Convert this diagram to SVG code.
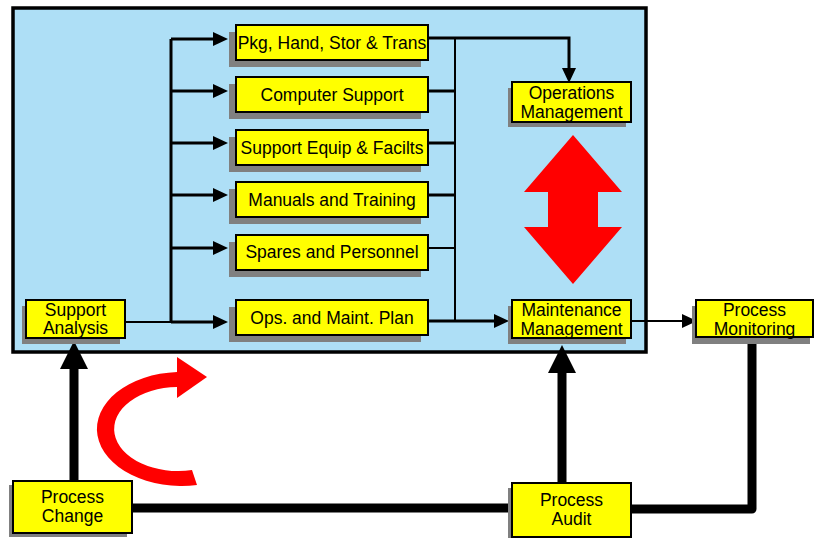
<svg xmlns="http://www.w3.org/2000/svg" width="815" height="538" viewBox="0 0 815 538">
  <style>
    .box { fill: #FFFF00; stroke: #000; stroke-width: 2; }
    .shadow { fill: #808080; }
    .lbl { font-family: "Liberation Sans", Arial, sans-serif; font-size: 17.5px; fill: #000; text-anchor: middle; }
    .bus { fill: none; stroke: #000; stroke-width: 3; }
    .thin { fill: none; stroke: #000; stroke-width: 2; }
    .thick { fill: none; stroke: #000; stroke-width: 9; stroke-linecap: round; stroke-linejoin: round; }
    .red { fill: #FF0000; }
  </style>
  <defs>
    <marker id="head" markerUnits="userSpaceOnUse" viewBox="0 0 15 14" refX="0" refY="7" markerWidth="15" markerHeight="14" orient="auto">
      <path d="M0,0 L15,7 L0,14 Z" fill="#000"/>
    </marker>
    <marker id="bighead" markerUnits="userSpaceOnUse" viewBox="0 0 28 28" refX="0" refY="14" markerWidth="28" markerHeight="28" orient="auto">
      <path d="M0,0 L28,14 L0,28 Z" fill="#000"/>
    </marker>
  </defs>

  <!-- white page -->
  <rect x="0" y="0" width="815" height="538" fill="#fff"/>

  <!-- support system frame -->
  <rect id="frame" x="13" y="8" width="633" height="344" fill="#AEDFF6" stroke="#000" stroke-width="3.5"/>

  <!-- connectors -->
  <g id="connectors">
    <!-- distribution bus from support analysis -->
    <path class="thin" d="M125,322 H171"/>
    <path class="bus" d="M171,39 V322"/>
    <path class="bus" d="M171,39 H213" marker-end="url(#head)"/>
    <path class="bus" d="M171,91 H213" marker-end="url(#head)"/>
    <path class="bus" d="M171,143 H213" marker-end="url(#head)"/>
    <path class="bus" d="M171,195 H213" marker-end="url(#head)"/>
    <path class="bus" d="M171,248 H213" marker-end="url(#head)"/>
    <path class="bus" d="M171,322 H213" marker-end="url(#head)"/>

    <!-- collection bus to management -->
    <path class="thin" d="M455,38 V321"/>
    <path class="bus" d="M428,91 H455"/>
    <path class="bus" d="M428,143 H455"/>
    <path class="bus" d="M428,195 H455"/>
    <path class="thin" d="M428,248 H455"/>
    <path class="bus" d="M428,38 H569 V68" marker-end="url(#head)"/>
    <path class="bus" d="M428,321 H494" marker-end="url(#head)"/>

    <!-- maintenance to monitoring -->
    <path class="thin" d="M631,321 H682" marker-end="url(#head)"/>

    <!-- feedback loop -->
    <path class="thick" d="M132,508 H512"/>
    <path class="thick" d="M631,509 H752 V338"/>
    <path class="thick" style="stroke-linecap:butt" d="M74,481 V369" marker-end="url(#bighead)"/>
    <path class="thick" style="stroke-linecap:butt" d="M562,483 V373" marker-end="url(#bighead)"/>
  </g>

  <!-- two-way link between operations and maintenance -->
  <path class="red" d="M573,135 L622,192 L598,192 L598,227 L622,227 L573,284 L524,227 L548,227 L548,192 L524,192 Z"/>

  <!-- circular improvement arrow -->
  <path class="red" d="M177,372 A85,57 0 1 0 197,485 L192,470 A64,42 0 1 1 177,387 Z"/>
  <path class="red" d="M177,357 L207,377 L177,398 Z"/>

  <!-- nodes -->
  <g id="pkg">
    <rect class="shadow" x="229" y="32" width="192" height="35"/>
    <rect class="box" x="236" y="25" width="192" height="35"/>
    <text class="lbl" x="332" y="49">Pkg, Hand, Stor &amp; Trans</text>
  </g>
  <g id="computer">
    <rect class="shadow" x="229" y="84" width="192" height="35"/>
    <rect class="box" x="236" y="77" width="192" height="35"/>
    <text class="lbl" x="332" y="101">Computer Support</text>
  </g>
  <g id="equip">
    <rect class="shadow" x="229" y="137" width="192" height="35"/>
    <rect class="box" x="236" y="130" width="192" height="35"/>
    <text class="lbl" x="332" y="154">Support Equip &amp; Facilts</text>
  </g>
  <g id="manuals">
    <rect class="shadow" x="229" y="189" width="192" height="35"/>
    <rect class="box" x="236" y="182" width="192" height="35"/>
    <text class="lbl" x="332" y="206">Manuals and Training</text>
  </g>
  <g id="spares">
    <rect class="shadow" x="229" y="242" width="192" height="35"/>
    <rect class="box" x="236" y="235" width="192" height="35"/>
    <text class="lbl" x="332" y="258">Spares and Personnel</text>
  </g>
  <g id="omplan">
    <rect class="shadow" x="229" y="307" width="192" height="35"/>
    <rect class="box" x="236" y="300" width="192" height="35"/>
    <text class="lbl" x="332" y="324">Ops. and Maint. Plan</text>
  </g>
  <g id="support-analysis">
    <rect class="shadow" x="22" y="306" width="98" height="38"/>
    <rect class="box" x="26" y="300" width="99" height="38"/>
    <text class="lbl" x="75.5" y="316">Support</text>
    <text class="lbl" x="75.5" y="334">Analysis</text>
  </g>
  <g id="ops-mgmt">
    <rect class="shadow" x="508" y="88" width="118" height="39"/>
    <rect class="box" x="512" y="82" width="119" height="40"/>
    <text class="lbl" x="571.5" y="98.5">Operations</text>
    <text class="lbl" x="571.5" y="117.5">Management</text>
  </g>
  <g id="maint-mgmt">
    <rect class="shadow" x="508" y="306" width="118" height="38"/>
    <rect class="box" x="512" y="300" width="119" height="38"/>
    <text class="lbl" x="571.5" y="316">Maintenance</text>
    <text class="lbl" x="571.5" y="335">Management</text>
  </g>
  <g id="monitoring">
    <rect class="shadow" x="692" y="306" width="118" height="38"/>
    <rect class="box" x="696" y="300" width="117" height="37"/>
    <text class="lbl" x="754.5" y="316">Process</text>
    <text class="lbl" x="754.5" y="335">Monitoring</text>
  </g>
  <g id="change">
    <rect class="shadow" x="9" y="485" width="118" height="52"/>
    <rect class="box" x="13" y="481" width="119" height="52"/>
    <text class="lbl" x="72.5" y="503">Process</text>
    <text class="lbl" x="72.5" y="522">Change</text>
  </g>
  <g id="audit">
    <rect class="shadow" x="508" y="488" width="118" height="52"/>
    <rect class="box" x="512" y="483" width="119" height="54"/>
    <text class="lbl" x="571.5" y="505.5">Process</text>
    <text class="lbl" x="571.5" y="524.5">Audit</text>
  </g>
</svg>
